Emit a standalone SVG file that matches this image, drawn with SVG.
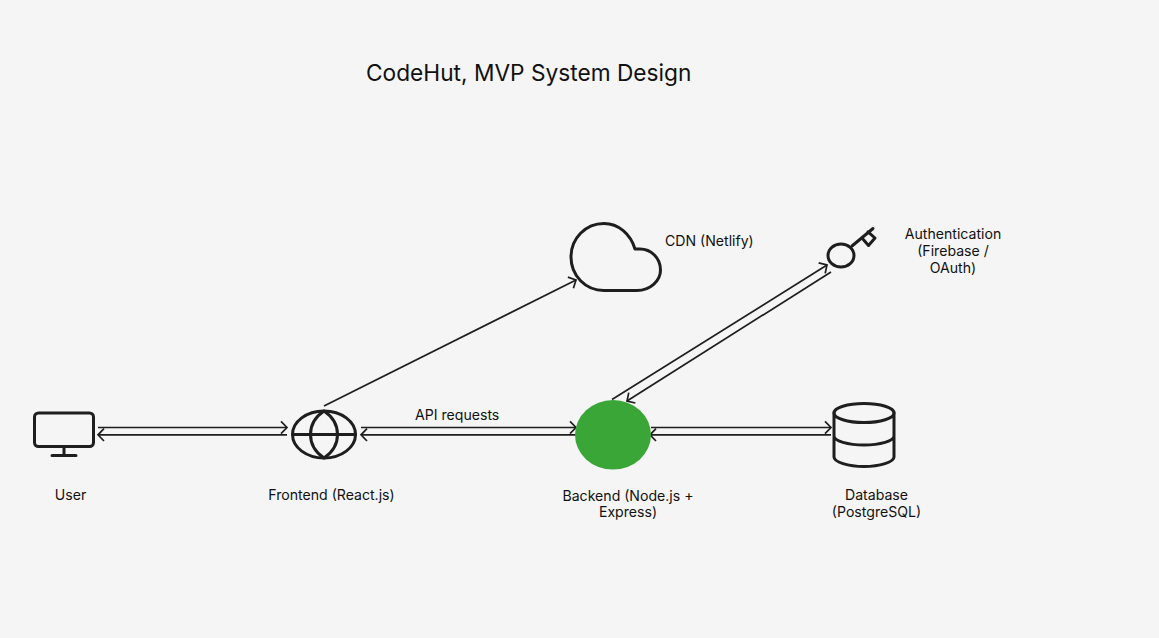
<svg xmlns="http://www.w3.org/2000/svg" width="1159" height="638" viewBox="0 0 1159 638">
<style>
text{font-family:Inter,"Liberation Sans",sans-serif;font-size:14.100px;fill:#111}
.m{text-anchor:middle}
.t{font-size:22.700px;fill:#111}
.i{fill:none;stroke:#1e1e1e;stroke-width:3;stroke-linecap:round;stroke-linejoin:round}
.c{fill:none;stroke:#1e1e1e;stroke-width:1.700}
</style>
<defs>
<marker id="e" markerUnits="userSpaceOnUse" markerWidth="14" markerHeight="16" refX="9" refY="8" orient="auto-start-reverse" viewBox="0 0 14 16">
<path d="M3 1.800L9 8L3 14.200" fill="none" stroke="#1e1e1e" stroke-width="1.700"/>
</marker>
</defs>
<rect width="1159" height="638" fill="#f5f5f5"/>
<text id="title" class="t" x="366" y="81">CodeHut, MVP System Design</text>
<g id="connectors">
<line class="c" x1="98" y1="427.500" x2="287" y2="427.500" marker-end="url(#e)"/>
<line class="c" x1="287" y1="434.800" x2="98" y2="434.800" marker-end="url(#e)"/>
<line class="c" x1="361" y1="427.500" x2="576" y2="427.500" marker-end="url(#e)"/>
<line class="c" x1="576" y1="434.800" x2="361" y2="434.800" marker-end="url(#e)"/>
<line class="c" x1="651" y1="427.500" x2="831" y2="427.500" marker-end="url(#e)"/>
<line class="c" x1="831" y1="434.800" x2="650" y2="434.800" marker-end="url(#e)"/>
<line class="c" x1="324" y1="406" x2="576" y2="280" marker-end="url(#e)"/>
<line class="c" x1="612" y1="399.500" x2="827" y2="265" marker-end="url(#e)"/>
<line class="c" x1="831" y1="272" x2="627" y2="401" marker-end="url(#e)"/>
<text x="415" y="420">API requests</text>
</g>
<g id="user">
<rect class="i" x="34.500" y="413" width="59" height="33.500" rx="4"/>
<path class="i" d="M64 447V455.500M52 455.500H76"/>
<text class="m" x="70.500" y="500">User</text>
</g>
<g id="frontend">
<ellipse class="i" cx="324" cy="434.500" rx="31.500" ry="23.500"/>
<path class="i" d="M292.500 434.500H355.500M324 411C306 423 306 446 324 458C342 446 342 423 324 411Z"/>
<text class="m" x="331.500" y="500">Frontend (React.js)</text>
</g>
<g id="backend">
<ellipse cx="613" cy="434.800" rx="38" ry="34.800" fill="#3aa637"/>
<text class="m" x="628" y="501">Backend (Node.js +</text>
<text class="m" x="628" y="517">Express)</text>
</g>
<g id="database">
<ellipse class="i" cx="864" cy="413" rx="30" ry="9.500"/>
<path class="i" d="M834 413V457C834 462 848 466.500 864 466.500C880 466.500 894 462 894 457V413M834 436C834 441 848 445 864 445C880 445 894 441 894 436"/>
<text class="m" x="876.500" y="500">Database</text>
<text class="m" x="876.500" y="517">(PostgreSQL)</text>
</g>
<g id="cdn">
<path class="i" d="M604 290.500H637C650 290.500 660.500 281 660.500 270C660.500 258 651 249 640 249H635C630.500 234 618.500 223.500 604 223.500C585.500 223.500 571 238.500 571 257C571 275.500 585.500 290.500 604 290.500Z"/>
<text x="665" y="246">CDN (Netlify)</text>
</g>
<g id="auth">
<ellipse class="i" cx="841" cy="255.500" rx="13" ry="11.500"/>
<path class="i" d="M852 246L873 228.500M862 238L868.500 245.500L875 238L868 231.800"/>
<text class="m" x="953" y="239">Authentication</text>
<text class="m" x="953" y="256">(Firebase /</text>
<text class="m" x="953" y="273">OAuth)</text>
</g>
</svg>
